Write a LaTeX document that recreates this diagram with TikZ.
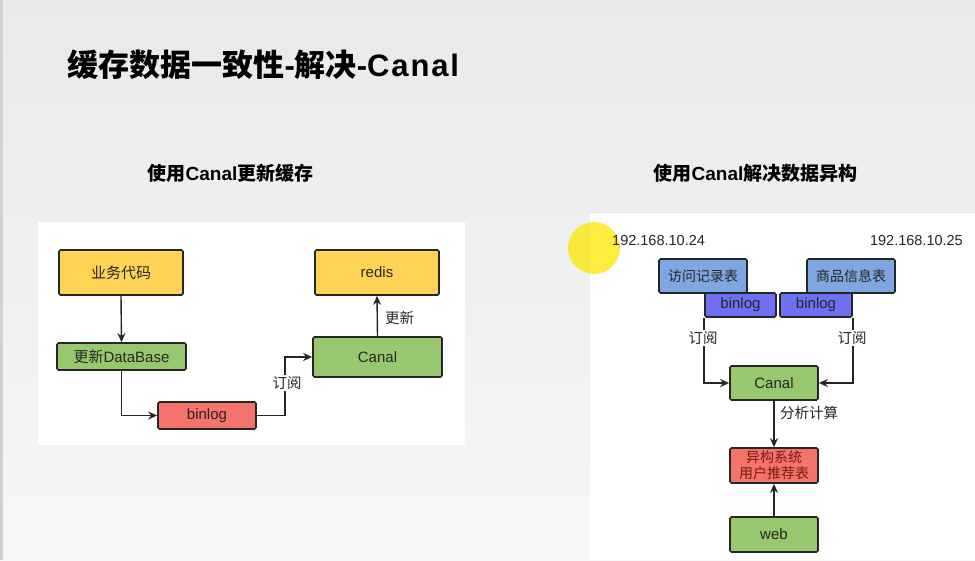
\documentclass[tikz,border=0pt]{standalone}
\usepackage{fontspec}
\setmainfont{Liberation Sans}
\newfontfamily\cjk{Noto Sans CJK SC}
\usetikzlibrary{arrows.meta}
\newcommand{\zh}[1]{{\cjk #1}}
\definecolor{bgtop}{HTML}{E9E9E9}
\definecolor{bgbot}{HTML}{F7F7F7}
\definecolor{yel}{HTML}{FFD454}
\definecolor{grn}{HTML}{97C86E}
\definecolor{redb}{HTML}{F4736A}
\definecolor{blu}{HTML}{7EA6E0}
\definecolor{blu2}{HTML}{6F6FF2}
\definecolor{txt}{HTML}{262626}
\definecolor{hetred}{HTML}{7A1A12}
\tikzset{
  box/.style={draw=black!85, line width=1.7pt, rounded corners=1.5pt, inner sep=0pt, text=txt, font=\fontsize{15}{17}\selectfont},
  conn/.style={draw=black!85, line width=1.4pt, -{Stealth[length=9pt,width=8pt]}},
  lbl/.style={font=\fontsize{14.5}{16}\selectfont, text=txt, inner sep=1pt},
}
\begin{document}
\begin{tikzpicture}[x=1pt,y=-1pt]
\useasboundingbox (0,0) rectangle (975,560);
\shade[top color=bgtop, bottom color=bgbot] (0,0) rectangle (975,560);
\fill[black!18] (0,0) rectangle (2.5,560);
% panels
\fill[white] (38,222) rectangle (465,445);
\fill[white] (590,212) rectangle (975,560);
\draw[black!10, line width=1pt] (590,212.5) -- (975,212.5);
% titles
\node[anchor=west, font=\fontsize{31}{34}\selectfont\bfseries] (title) at (64,65) {\zh{缓存数据一致性}-\zh{解决}-{\addfontfeature{LetterSpace=6}Canal}};
\node[font=\fontsize{19}{22}\selectfont\bfseries] (subl) at (230.5,173) {\zh{使用}Canal\zh{更新缓存}};
\node[font=\fontsize{19}{22}\selectfont\bfseries] (subr) at (755.5,173) {\zh{使用}Canal\zh{解决数据异构}};
% cursor highlight
\fill[yellow!90!orange, opacity=0.75] (594,248) circle (26);
% left diagram
\node[box, fill=yel, minimum width=124pt, minimum height=45pt] (biz) at (121,272.5) {\zh{业务代码}};
\node[box, fill=grn, minimum width=129pt, minimum height=27pt] (db) at (121.5,356.5) {\zh{更新}DataBase};
\node[box, fill=redb, minimum width=98pt, minimum height=27pt] (bl) at (207,415.5) {binlog};
\node[box, fill=grn, minimum width=129pt, minimum height=40pt] (canl) at (377.5,357) {Canal};
\node[box, fill=yel, minimum width=124pt, minimum height=45pt] (redis) at (377,272.5) {redis};
\coordinate (k1) at (285,415.5);
\coordinate (k2) at (285,357);
\draw[conn] (biz.south) -- (db.north);
\draw[conn] (db.south) |- (bl.west);
\draw[conn] (bl.east) -- (k1) -- (k2) -- (canl.west);
\node[lbl, fill=white] (sub1) at (287,383) {\zh{订阅}};
\draw[conn] (canl.north) -- (redis.south);
\node[lbl, anchor=west] (upd) at (384,318) {\zh{更新}};
% right diagram
\node[lbl, anchor=west] (ip1) at (611,241) {192.168.10.24};
\node[lbl, anchor=east] (ip2) at (964,241) {192.168.10.25};
\node[box, fill=blu, minimum width=88pt, minimum height=34pt, font=\fontsize{14}{16}\selectfont] (t1) at (703,276) {\zh{访问记录表}};
\node[box, fill=blu, minimum width=88pt, minimum height=34pt, font=\fontsize{14}{16}\selectfont] (t2) at (851,276) {\zh{商品信息表}};
\node[box, fill=blu2, minimum width=71pt, minimum height=24pt] (b1) at (740.5,305) {binlog};
\node[box, fill=blu2, minimum width=72pt, minimum height=24pt] (b2) at (816,305) {binlog};
\node[box, fill=grn, minimum width=88pt, minimum height=34pt] (canr) at (774,383) {Canal};
\node[box, fill=redb, minimum width=88pt, minimum height=35pt, align=center, text=hetred, font=\fontsize{14}{16}\selectfont] (het) at (774,465.5) {\zh{异构系统}\\\zh{用户推荐表}};
\node[box, fill=grn, minimum width=88pt, minimum height=35pt] (web) at (774,534.5) {web};
\draw[conn] (b1.south west) |- (canr.west);
\draw[conn] (b2.south east) |- (canr.east);
\node[lbl, fill=white] (sub2) at (703,338) {\zh{订阅}};
\node[lbl, fill=white] (sub3) at (852,338) {\zh{订阅}};
\draw[conn] (canr.south) -- (het.north);
\node[lbl, anchor=west] (calc) at (779,413) {\zh{分析计算}};
\draw[conn] (web.north) -- (het.south);
\end{tikzpicture}
\end{document}
